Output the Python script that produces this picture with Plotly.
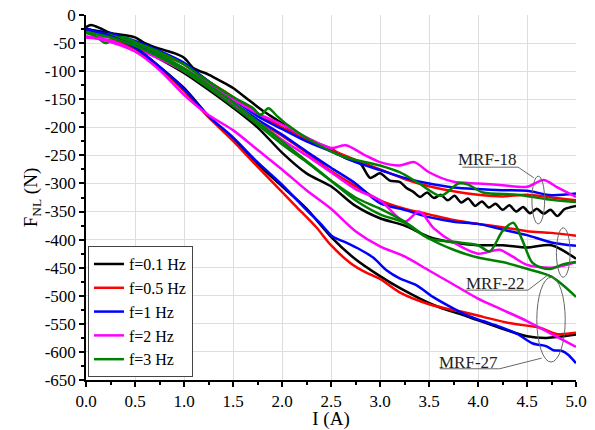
import plotly.graph_objects as go

# ---- data (I in A, F_NL in N) ----
grid = [0, 0.25, 0.5, 0.75, 1.0, 1.25, 1.5, 1.75, 2.0, 2.25, 2.5,
        2.75, 3.0, 3.25, 3.5, 3.75, 4.0, 4.25, 4.5, 4.75, 5.0]

# MRF-18
black_18_x = [0, 0.05, 0.15, 0.25, 0.4, 0.5, 0.6, 0.75, 0.9, 1.0, 1.1, 1.25, 1.4, 1.5,
              1.65, 1.8, 2.0, 2.2, 2.35, 2.5, 2.65, 2.8, 2.9, 3.0, 3.1, 3.2,
              3.27, 3.34, 3.41, 3.48, 3.55, 3.62, 3.69, 3.76, 3.83, 3.9, 3.97, 4.04,
              4.11, 4.18, 4.25, 4.32, 4.39, 4.46, 4.53, 4.6, 4.67, 4.74, 4.81, 4.88,
              4.95, 5.0]
black_18_y = [-22, -18, -24, -32, -36, -40, -50, -60, -68, -76, -95, -106, -120, -130,
              -150, -170, -193, -220, -228, -238, -255, -265, -290, -282, -295, -297,
              -308, -315, -324, -316, -326, -320, -330, -322, -334, -327, -340, -332,
              -343, -336, -347, -339, -350, -342, -353, -345, -354, -347, -358, -346,
              -342, -340]
red_18_y = [-30, -36, -50, -68, -88, -118, -146, -175, -200, -222, -240,
            -258, -275, -292, -305, -314, -320, -323, -320, -325, -330]
blue_18_y = [-25, -33, -46, -64, -85, -118, -150, -180, -203, -225, -243,
             -262, -276, -290, -300, -307, -310, -312, -313, -321, -318]
magenta_18_x = [0, 0.1, 0.25, 0.5, 0.75, 1.0, 1.25, 1.5, 1.75, 2.0, 2.25, 2.5, 2.65,
                2.85, 3.0, 3.2, 3.35, 3.5, 3.75, 4.0, 4.25, 4.5, 4.67, 4.8, 5.0]
magenta_18_y = [-40, -40, -38, -55, -75, -95, -122, -150, -175, -195, -218, -237, -232,
                -250, -262, -268, -262, -280, -297, -300, -303, -306, -294, -306, -324]
green_18_x = [0, 0.1, 0.2, 0.3, 0.4, 0.5, 0.75, 1.0, 1.16, 1.5, 1.7, 1.78, 1.86, 1.95,
              2.05, 2.29, 2.62, 3.0, 3.2, 3.4, 3.62, 3.8, 3.9, 4.05, 4.4, 4.7, 5.0]
green_18_y = [-32, -38, -50, -42, -40, -48, -66, -88, -108, -146, -165, -178, -166, -180,
              -195, -223, -252, -268, -280, -300, -322, -300, -302, -316, -320, -328, -333]

# MRF-22
red_22_y = [-30, -38, -55, -75, -100, -128, -158, -188, -215, -245, -278,
            -305, -330, -345, -355, -365, -372, -378, -385, -388, -393]
blue_22_y = [-28, -36, -52, -72, -98, -126, -156, -186, -213, -243, -272,
             -300, -335, -347, -360, -368, -372, -382, -392, -405, -411]
black_22_y = [-25, -35, -55, -78, -103, -133, -165, -200, -245, -282, -305,
              -340, -362, -375, -395, -405, -410, -410, -414, -410, -434]
magenta_22_x = [0, 0.25, 0.5, 0.75, 1.0, 1.25, 1.5, 1.75, 2.0, 2.25, 2.5, 2.75, 3.0,
                3.25, 3.4, 3.55, 3.75, 4.0, 4.22, 4.35, 4.5, 4.75, 5.0]
magenta_22_y = [-40, -45, -60, -78, -100, -128, -160, -190, -222, -250, -280, -310, -330,
                -368, -350, -380, -405, -425, -418, -430, -445, -450, -440]
green_22_x = [0, 0.25, 0.5, 0.75, 1.0, 1.25, 1.5, 1.75, 2.0, 2.25, 2.5, 2.75, 3.0,
              3.25, 3.5, 3.75, 4.0, 4.12, 4.25, 4.36, 4.45, 4.55, 4.65, 4.75, 4.85, 5.0]
green_22_y = [-30, -36, -50, -70, -95, -125, -155, -190, -225, -260, -295, -330, -355,
              -370, -398, -404, -410, -421, -385, -370, -400, -440, -450, -452, -445, -440]

# MRF-27
black_27_x = [0, 0.25, 0.5, 0.75, 1.0, 1.25, 1.5, 1.75, 2.0, 2.25, 2.5, 2.75, 3.0,
              3.2, 3.54, 3.89, 4.22, 4.5, 4.7, 5.0]
black_27_y = [-25, -38, -58, -92, -130, -180, -222, -265, -305, -345, -395, -435, -465,
              -486, -516, -537, -557, -572, -575, -569]
red_27_x = [0, 0.25, 0.5, 0.75, 1.0, 1.25, 1.5, 1.75, 2.0, 2.15, 2.35, 2.5, 2.7, 2.85,
            3.0, 3.2, 3.5, 3.9, 4.06, 4.33, 4.63, 4.8, 5.0]
red_27_y = [-30, -40, -60, -95, -135, -182, -224, -270, -315, -342, -378, -410, -442, -458,
            -470, -494, -515, -531, -538, -549, -557, -568, -566]
blue_27_x = [0, 0.25, 0.5, 0.75, 1.0, 1.25, 1.5, 1.75, 2.0, 2.25, 2.39, 2.52, 2.65, 2.8,
             2.93, 3.07, 3.2, 3.37, 3.54, 3.7, 3.89, 4.05, 4.22, 4.4, 4.56, 4.7, 4.77,
             4.85, 4.92, 5.0]
blue_27_y = [-25, -38, -58, -92, -132, -180, -218, -262, -302, -347, -371, -395, -405, -418,
             -432, -455, -469, -481, -502, -518, -535, -545, -555, -568, -585, -590, -597,
             -598, -605, -620]
magenta_27_y = [-38, -48, -65, -98, -142, -178, -205, -240, -275, -312, -345,
                -385, -412, -430, -455, -480, -505, -525, -545, -568, -591]
green_27_y = [-30, -40, -55, -75, -100, -130, -162, -195, -230, -262, -295,
              -325, -345, -368, -398, -418, -432, -440, -452, -466, -502]

freqs = ["f=0.1 Hz", "f=0.5 Hz", "f=1 Hz", "f=2 Hz", "f=3 Hz"]
colors = ["#000000", "#ff0000", "#0000ff", "#ff00ff", "#008000"]

# one entry per (material, frequency)
curves = [
    (0, black_18_x, black_18_y), (1, grid, red_18_y), (2, grid, blue_18_y),
    (3, magenta_18_x, magenta_18_y), (4, green_18_x, green_18_y),
    (0, grid, black_22_y), (1, grid, red_22_y), (2, grid, blue_22_y),
    (3, magenta_22_x, magenta_22_y), (4, green_22_x, green_22_y),
    (0, black_27_x, black_27_y), (1, red_27_x, red_27_y), (2, blue_27_x, blue_27_y),
    (3, grid, magenta_27_y), (4, grid, green_27_y),
]

y_ticks = list(range(0, -651, -50))
y_labels = [str(v) for v in y_ticks]

SERIF = "Liberation Serif, Times New Roman, Times, serif"

fig = go.Figure()
shown = set()
for k, xs, ys in curves:
    fig.add_trace(go.Scatter(
        x=xs, y=ys, mode="lines", name=freqs[k], legendgroup=freqs[k],
        showlegend=k not in shown,
        line=dict(color=colors[k], width=2.5, shape="spline", smoothing=0.8),
    ))
    shown.add(k)

# annotation ellipses + leaders (gray, thin)
gray = "#666666"
shapes = [
    dict(type="circle", x0=4.55, x1=4.68, y0=-372, y1=-287),
    dict(type="circle", x0=4.80, x1=4.94, y0=-467, y1=-379),
    dict(type="circle", x0=4.60, x1=4.89, y0=-618, y1=-467),
    dict(type="line", x0=3.84, x1=4.41, y0=-271, y1=-271),
    dict(type="line", x0=4.41, x1=4.57, y0=-271, y1=-290),
    dict(type="line", x0=3.87, x1=4.51, y0=-490, y1=-490),
    dict(type="line", x0=4.51, x1=4.72, y0=-490, y1=-462),
    dict(type="line", x0=3.61, x1=4.22, y0=-630, y1=-630),
    dict(type="line", x0=4.22, x1=4.65, y0=-630, y1=-611),
]
for s in shapes:
    s.update(xref="x", yref="y", line=dict(color=gray, width=1))

labels = [("MRF-18", 4.10, -257), ("MRF-22", 4.18, -479), ("MRF-27", 3.90, -618)]
annotations = [
    dict(x=x, y=y, text=t, showarrow=False, xref="x", yref="y",
         font=dict(family=SERIF, size=17, color="#222222"))
    for t, x, y in labels
]

# the page body keeps its default 8px margin, so the figure starts at (8, 8)
fig.update_layout(
    width=579, height=422,
    margin=dict(l=78, r=11, t=7, b=50, autoexpand=False),
    paper_bgcolor="white", plot_bgcolor="white",
    font=dict(family=SERIF, size=17, color="black"),
    shapes=shapes, annotations=annotations,
    legend=dict(x=0.004, y=0.008, xanchor="left", yanchor="bottom",
                bgcolor="white", bordercolor="#444444", borderwidth=1,
                font=dict(family=SERIF, size=16), tracegroupgap=0),
)

fig.update_xaxes(
    range=[0, 5], dtick=0.5, tick0=0, tickformat=".1f", automargin=False,
    tickfont=dict(family=SERIF, size=17), ticklabeloverflow="allow",
    ticks="outside", ticklen=5, tickwidth=1.5, tickcolor="black",
    showline=True, linecolor="black", linewidth=1.5,
    showgrid=True, gridcolor="#dddddd", gridwidth=1, zeroline=False,
    minor=dict(dtick=0.25, tick0=0, ticks="outside", ticklen=3, tickcolor="black", showgrid=False),
    title=dict(text="I (A)", font=dict(family=SERIF, size=19), standoff=17),
)
fig.update_yaxes(
    range=[-650, 0], tickmode="array", tickvals=y_ticks, ticktext=y_labels, automargin=False,
    tickfont=dict(family=SERIF, size=17), ticklabeloverflow="allow",
    ticks="outside", ticklen=5, tickwidth=1.5, tickcolor="black",
    showline=True, linecolor="black", linewidth=1.5,
    showgrid=True, gridcolor="#dddddd", gridwidth=1, zeroline=False,
    minor=dict(dtick=25, tick0=0, ticks="outside", ticklen=3, tickcolor="black", showgrid=False),
    title=dict(text="F<sub>NL</sub> (N)", font=dict(family=SERIF, size=19), standoff=2),
)

fig.write_html("out.html")
